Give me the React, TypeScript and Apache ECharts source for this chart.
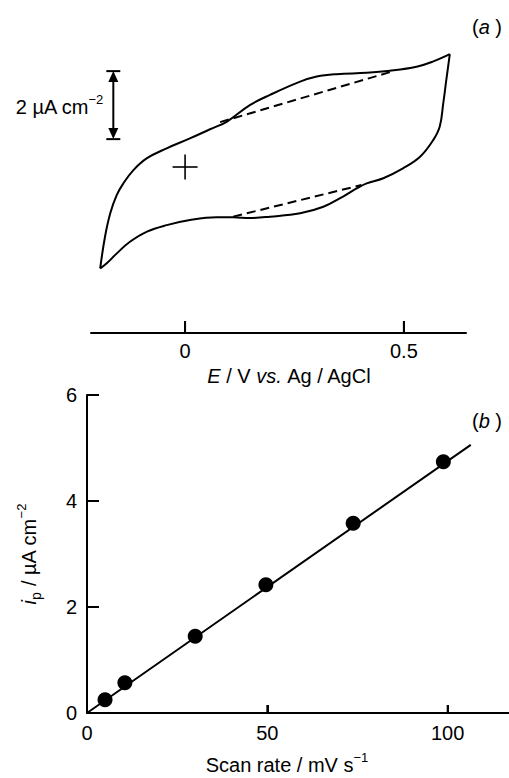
import React, { useEffect, useRef } from 'react';
import * as echarts from 'echarts';

const FONT = '"Liberation Sans", Arial, Helvetica, sans-serif';

// ---------- Panel (a): cyclic voltammogram ----------
// Potential E (V vs. Ag/AgCl) and current density i (µA cm^-2)
const anodicE = [-0.194, -0.183, -0.171, -0.156, -0.141, -0.118, -0.087, -0.042, 0.011, 0.057, 0.095, 0.148, 0.194, 0.263, 0.301, 0.346, 0.415, 0.468, 0.529, 0.566, 0.605];
const anodicI = [-2.98, -2.05, -1.36, -0.82, -0.48, -0.09, 0.26, 0.55, 0.84, 1.11, 1.33, 1.82, 2.12, 2.51, 2.66, 2.73, 2.77, 2.83, 2.95, 3.10, 3.32];
const cathodicE = [0.605, 0.597, 0.590, 0.582, 0.567, 0.537, 0.498, 0.453, 0.415, 0.392, 0.361, 0.316, 0.263, 0.194, 0.148, 0.110, 0.072, 0.011, -0.042, -0.087, -0.126, -0.156, -0.179, -0.194];
const cathodicI = [3.32, 2.56, 1.87, 1.19, 0.79, 0.30, -0.04, -0.33, -0.48, -0.63, -0.87, -1.17, -1.36, -1.46, -1.50, -1.48, -1.48, -1.56, -1.71, -1.90, -2.20, -2.54, -2.83, -2.98];
const baseUpperE = [0.080, 0.468];
const baseUpperI = [1.32, 2.79];
const baseLowerE = [0.110, 0.403];
const baseLowerI = [-1.46, -0.53];
const zeroMark = [0, 0];
const scaleBarE = -0.164;
const scaleBarFrom = 0.82;
const scaleBarSize = 2; // µA cm^-2
const potentialTicks = [0, 0.5];
const aXMin = -0.215, aXMax = 0.642, aYMin = -4.882, aYMax = 4.0;

// ---------- Panel (b): peak current vs scan rate ----------
const scanRate = [5, 10.5, 30, 49.6, 73.8, 98.8];
const peakCurrent = [0.25, 0.57, 1.45, 2.42, 3.58, 4.74];
const fitRate = [0, 106.4];
const fitCurrent = [0, 5.06];
const scanRateTicks = [0, 50, 100];
const currentTicks = [0, 2, 4, 6];

const zip = (a: number[], b: number[]) => a.map((v, k) => [v, b[k]]);

const FS = 20;
const txt = { fontFamily: FONT, fontSize: FS, color: '#000' };
const supStyle = { fontFamily: FONT, fontSize: 13, color: '#000', lineHeight: 13, verticalAlign: 'top' };
const subStyle = { fontFamily: FONT, fontSize: 14, color: '#000', lineHeight: 14, verticalAlign: 'bottom' };
const itStyle = { fontFamily: FONT, fontSize: FS, color: '#000', fontStyle: 'italic' };

// tick marks drawn through the axes' own scales (inward pointing)
const tickSeries = (xi: number, values: number[], at: number, dir: 'x' | 'y', len: number) => ({
  type: 'custom', xAxisIndex: xi, yAxisIndex: xi, silent: true,
  data: values.map((v) => [v]),
  renderItem: (_p: any, api: any) => {
    const v = api.value(0);
    const c = dir === 'x' ? api.coord([v, at]) : api.coord([at, v]);
    const shape = dir === 'x'
      ? { x1: c[0], y1: c[1], x2: c[0], y2: c[1] - len }
      : { x1: c[0], y1: c[1], x2: c[0] + len, y2: c[1] };
    return { type: 'line', shape, style: { stroke: '#000', lineWidth: 2 } };
  },
});

export default function App() {
  const ref = useRef<HTMLDivElement>(null);
  useEffect(() => {
    const chart = echarts.init(ref.current!, null, { renderer: 'svg' });
    const axisLineStyle = { show: true, onZero: false, lineStyle: { color: '#000', width: 2 } };
    const option: any = {
      animation: false,
      backgroundColor: '#fff',
      grid: [
        { left: 91, right: 43, top: 31, bottom: 445, containLabel: false, outerBoundsMode: 'none' },
        { left: 87, right: 0, top: 395, bottom: 65, containLabel: false, outerBoundsMode: 'none' },
      ],
      xAxis: [
        {
          type: 'value', gridIndex: 0, min: aXMin, max: aXMax,
          axisLine: { ...axisLineStyle },
          axisTick: { show: true, inside: true, length: 12, customValues: potentialTicks, lineStyle: { color: '#000', width: 2 } },
          axisLabel: { ...txt, margin: 8, customValues: potentialTicks, formatter: (v: number) => String(v) },
          splitLine: { show: false },
          name: '{it|E} / V {it|vs.} Ag / AgCl',
          nameLocation: 'middle', nameGap: 22,
          nameTextStyle: { ...txt, lineHeight: 28, padding: [0, 0, 0, 22], rich: { it: { ...itStyle, lineHeight: 28 } } },
        },
        {
          type: 'value', gridIndex: 1, min: 0, max: 117,
          axisLine: { ...axisLineStyle },
          axisTick: { show: true, inside: true, length: 8, customValues: scanRateTicks, lineStyle: { color: '#000', width: 2 } },
          axisLabel: { ...txt, margin: 10, customValues: scanRateTicks },
          splitLine: { show: false },
          name: 'Scan rate / mV s{sup|−1}',
          nameLocation: 'middle', nameGap: 38,
          nameTextStyle: { ...txt, lineHeight: 28, padding: [0, 22, 0, 0], rich: { sup: supStyle } },
        },
      ],
      yAxis: [
        { type: 'value', gridIndex: 0, min: aYMin, max: aYMax, show: false, splitLine: { show: false } },
        {
          type: 'value', gridIndex: 1, min: 0, max: 6, interval: 2,
          axisLine: { ...axisLineStyle },
          axisTick: { show: true, inside: true, length: 12, lineStyle: { color: '#000', width: 2 } },
          axisLabel: { ...txt, margin: 10 },
          splitLine: { show: false },
          name: '{it|i}{sub|p} / µA cm{sup|−2}',
          nameLocation: 'middle', nameGap: 44, nameRotate: 90,
          nameTextStyle: { ...txt, lineHeight: 28, rich: { it: { ...itStyle, lineHeight: 28 }, sub: subStyle, sup: supStyle } },
        },
      ],
      graphic: [
        {
          type: 'text', x: 487, y: 27,
          style: { text: '({it|a} )', align: 'center', verticalAlign: 'middle', font: `${FS}px ${FONT}`, fill: '#000', rich: { it: { ...itStyle, fill: '#000' } } },
        },
        {
          type: 'text', x: 487, y: 421,
          style: { text: '({it|b} )', align: 'center', verticalAlign: 'middle', font: `${FS}px ${FONT}`, fill: '#000', rich: { it: { ...itStyle, fill: '#000' } } },
        },
      ],
      series: [
        {
          type: 'line', xAxisIndex: 0, yAxisIndex: 0, data: zip(anodicE, anodicI),
          smooth: 0.4, symbol: 'none', lineStyle: { color: '#000', width: 2 }, clip: false,
        },
        {
          type: 'line', xAxisIndex: 0, yAxisIndex: 0, data: zip(cathodicE, cathodicI),
          smooth: 0.4, symbol: 'none', lineStyle: { color: '#000', width: 2 }, clip: false,
        },
        {
          type: 'line', xAxisIndex: 0, yAxisIndex: 0, data: zip(baseUpperE, baseUpperI),
          symbol: 'none', lineStyle: { color: '#000', width: 2, type: [9, 5] },
        },
        {
          type: 'line', xAxisIndex: 0, yAxisIndex: 0, data: zip(baseLowerE, baseLowerI),
          symbol: 'none', lineStyle: { color: '#000', width: 2, type: [9, 5] },
        },
        tickSeries(0, potentialTicks, aYMin, 'x', 12),
        tickSeries(1, scanRateTicks.filter((v) => v > 0), 0, 'x', 8),
        tickSeries(1, currentTicks.filter((v) => v > 0), 0, 'y', 12),
        {
          type: 'custom', xAxisIndex: 0, yAxisIndex: 0, data: [zeroMark],
          renderItem: (_p: any, api: any) => {
            const c = api.coord([api.value(0), api.value(1)]);
            const h = 12.5;
            return {
              type: 'group', children: [
                { type: 'line', shape: { x1: c[0] - h, y1: c[1], x2: c[0] + h, y2: c[1] }, style: { stroke: '#000', lineWidth: 1.6 } },
                { type: 'line', shape: { x1: c[0], y1: c[1] - h, x2: c[0], y2: c[1] + h }, style: { stroke: '#000', lineWidth: 1.6 } },
              ],
            };
          },
        },
        {
          type: 'custom', xAxisIndex: 0, yAxisIndex: 0,
          data: [[scaleBarE, scaleBarFrom, scaleBarFrom + scaleBarSize]],
          renderItem: (_p: any, api: any) => {
            const t = api.coord([api.value(0), api.value(2)]);
            const b = api.coord([api.value(0), api.value(1)]);
            const x = t[0];
            const cap = 7, ah = 11, aw = 5;
            const k = { stroke: '#000', lineWidth: 2 };
            return {
              type: 'group', children: [
                { type: 'line', shape: { x1: x, y1: t[1] + ah - 1, x2: x, y2: b[1] - ah + 1 }, style: k },
                { type: 'line', shape: { x1: x - cap, y1: t[1], x2: x + cap, y2: t[1] }, style: k },
                { type: 'line', shape: { x1: x - cap, y1: b[1], x2: x + cap, y2: b[1] }, style: k },
                { type: 'polygon', shape: { points: [[x, t[1]], [x - aw, t[1] + ah], [x + aw, t[1] + ah]] }, style: { fill: '#000' } },
                { type: 'polygon', shape: { points: [[x, b[1]], [x - aw, b[1] - ah], [x + aw, b[1] - ah]] }, style: { fill: '#000' } },
                {
                  type: 'text', x: x - 10, y: (t[1] + b[1]) / 2 + 2,
                  style: {
                    text: `${scaleBarSize} µA cm{sup|−2}`, align: 'right', verticalAlign: 'middle',
                    font: `${FS}px ${FONT}`, fill: '#000', lineHeight: 28,
                    rich: { sup: { ...supStyle, fill: '#000' } },
                  },
                },
              ],
            };
          },
        },
        {
          type: 'line', xAxisIndex: 1, yAxisIndex: 1, data: zip(fitRate, fitCurrent),
          symbol: 'none', lineStyle: { color: '#000', width: 2 },
        },
        {
          type: 'scatter', xAxisIndex: 1, yAxisIndex: 1, data: zip(scanRate, peakCurrent),
          symbol: 'circle', symbolSize: 15, itemStyle: { color: '#000', opacity: 1 },
        },
      ],
    };
    chart.setOption(option);
    return () => chart.dispose();
  }, []);
  return <div ref={ref} style={{ position: 'fixed', left: 0, top: 0, width: 509, height: 778, background: '#fff' }} />;
}
